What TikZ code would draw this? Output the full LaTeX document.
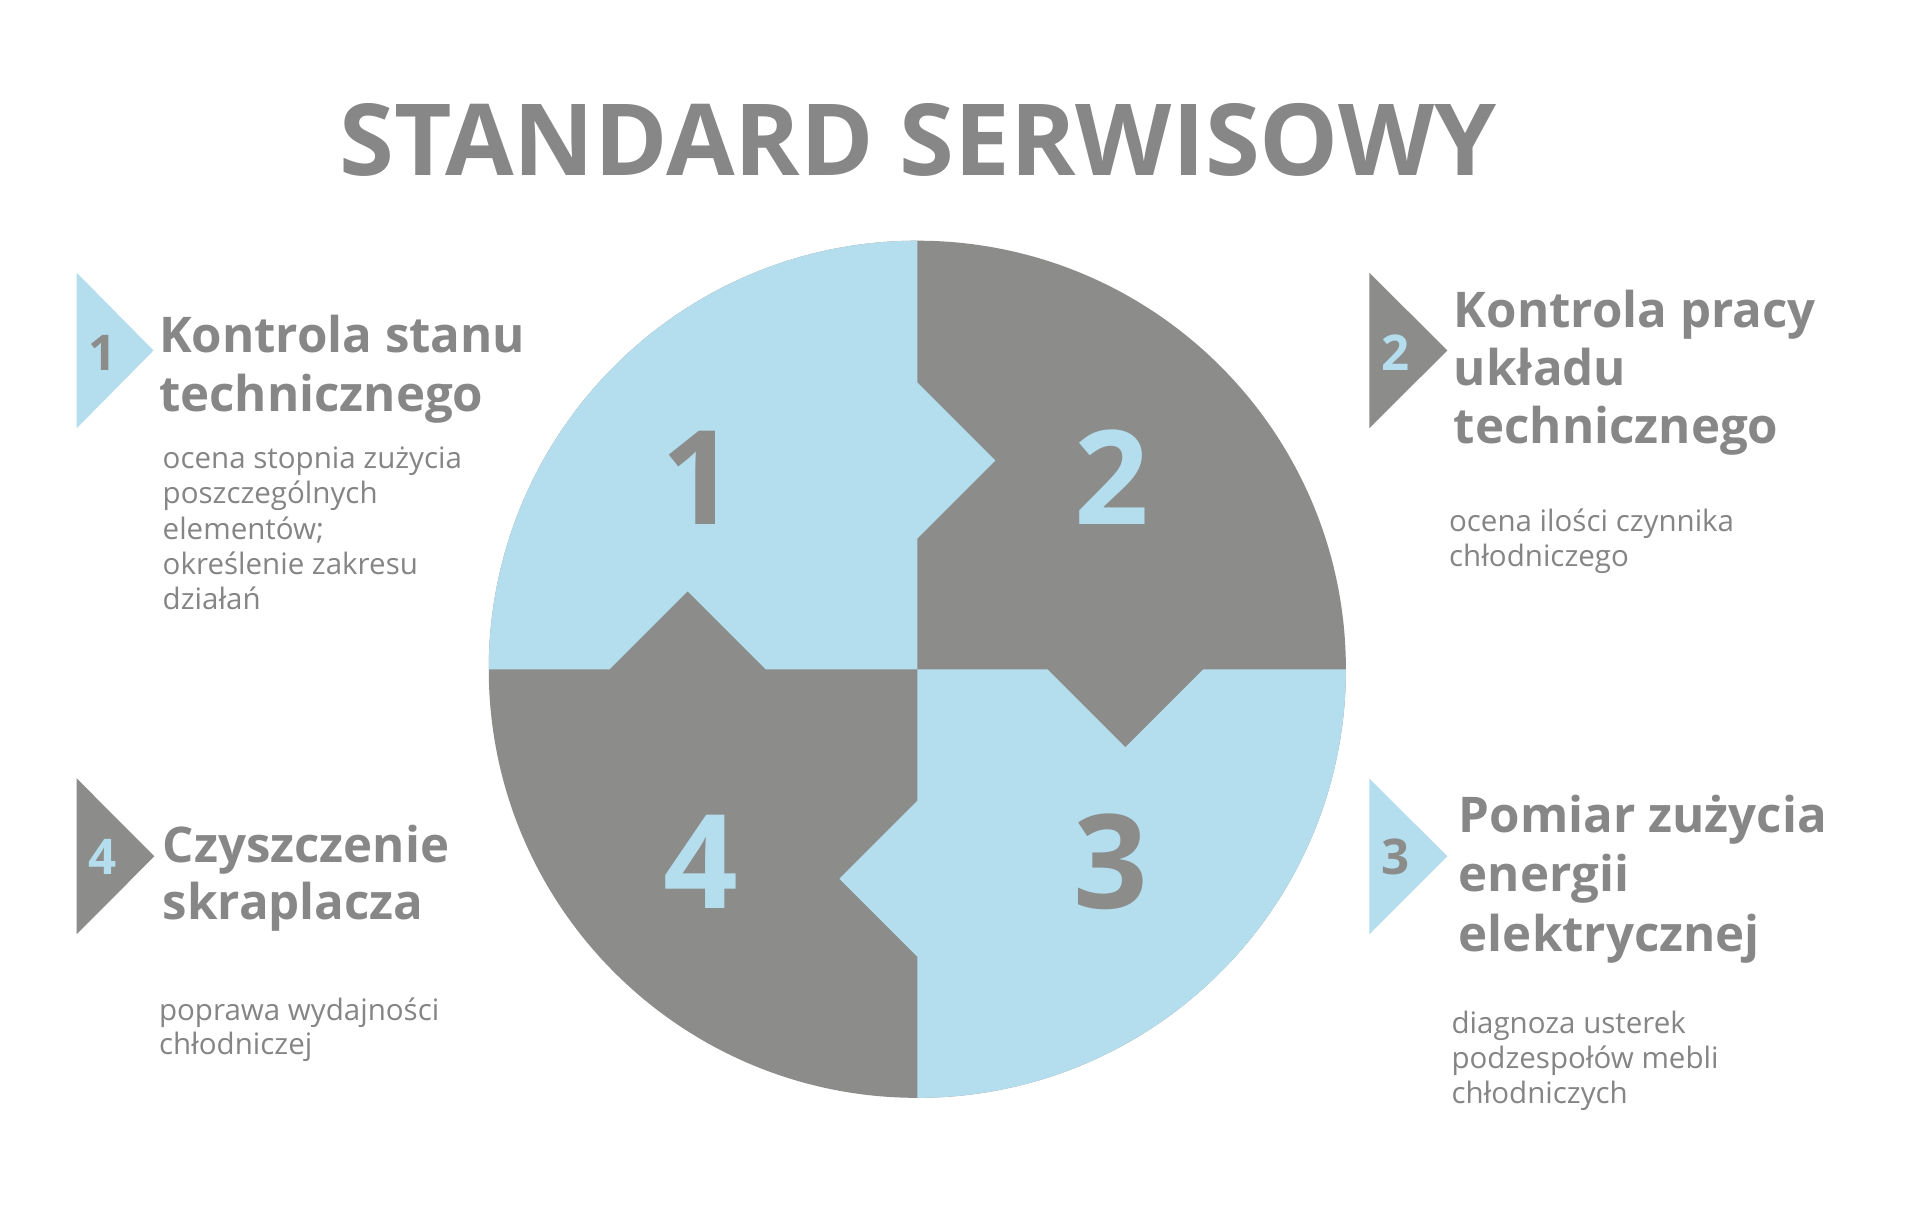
\documentclass[tikz,border=0pt]{standalone}
\usepackage{fontspec}
\setmainfont{Open Sans}
\definecolor{pgray}{HTML}{8C8C8B}
\definecolor{pblue}{HTML}{B4DEED}
\definecolor{tgray}{HTML}{878787}
\definecolor{dgray}{HTML}{858585}
\tikzset{
  every node/.style={inner sep=0pt, outer sep=0pt},
  titletext/.style={anchor=base, text=tgray, font=\fontsize{28.3}{34}\selectfont\bfseries},
  headtext/.style={anchor=base west, text=tgray, font=\fontsize{14}{17}\selectfont\bfseries},
  desctext/.style={anchor=base west, text=dgray, font=\fontsize{8.4}{10}\selectfont},
  bignum/.style={anchor=base, font=\fontsize{37.2}{40}\selectfont\bfseries},
  smallnum/.style={anchor=base, font=\fontsize{14}{17}\selectfont\bfseries},
}
\begin{document}
\begin{tikzpicture}[x=0.1228mm,y=-0.1228mm]
\useasboundingbox (0,0) rectangle (1563.5,1000);
\fill[white] (0,0) rectangle (1563.5,1000);

% title
\node[titletext] (title) at (747.5,143) {STANDARD SERWISOWY};

% circle
\fill[pgray] (747,545) circle[radius=349];
\fill[pblue] (398,545) arc[start angle=180,end angle=270,radius=349]
  -- (747,311.5) -- (810.5,375) -- (747,438.5) -- (747,545)
  -- (623.5,545) -- (560,481.5) -- (496.5,545) -- cycle;
\fill[pblue] (1096,545) arc[start angle=0,end angle=90,radius=349]
  -- (747,779) -- (683.5,715.5) -- (747,652) -- (747,545)
  -- (853,545) -- (916.5,608.5) -- (980,545) -- cycle;

\node[bignum,text=pgray] (n1) at (569,427) {1};
\node[bignum,text=pblue] (n2) at (905,427) {2};
\node[bignum,text=pgray] (n3) at (904.5,740) {3};
\node[bignum,text=pblue] (n4) at (571,740) {4};

% small triangles
\fill[pblue] (62.4,222) -- (125,285.4) -- (62.4,348.8) -- cycle;
\fill[pgray] (1115,222) -- (1178.6,285.4) -- (1115,348.8) -- cycle;
\fill[pgray] (62.4,633.8) -- (125.7,697.3) -- (62.4,760.8) -- cycle;
\fill[pblue] (1115,633.8) -- (1178.6,697.3) -- (1115,760.8) -- cycle;

\node[smallnum,text=pgray] (s1) at (83.5,301.3) {1};
\node[smallnum,text=pblue] (s2) at (1136.5,301.3) {2};
\node[smallnum,text=pblue] (s4) at (83.6,712.5) {4};
\node[smallnum,text=pgray] (s3) at (1136.3,712.5) {3};

% item 1
\node[headtext] (h1a) at (129.5,287) {Kontrola stanu};
\node[headtext] (h1b) at (129.5,335) {technicznego};
\node[desctext] (d1a) at (132.5,381.4) {ocena stopnia zużycia};
\node[desctext] (d1b) at (132.5,410.2) {poszczególnych};
\node[desctext] (d1c) at (132.5,439) {elementów;};
\node[desctext] (d1d) at (132.5,467.8) {określenie zakresu};
\node[desctext] (d1e) at (132.5,496.6) {działań};

% item 2
\node[headtext] (h2a) at (1184,267) {Kontrola pracy};
\node[headtext] (h2b) at (1184,314) {układu};
\node[headtext] (h2c) at (1184,361) {technicznego};
\node[desctext] (d2a) at (1180,433) {ocena ilości czynnika};
\node[desctext] (d2b) at (1180,461) {chłodniczego};

% item 4
\node[headtext] (h4a) at (132.5,702.5) {Czyszczenie};
\node[headtext] (h4b) at (132.5,749) {skraplacza};
\node[desctext] (d4a) at (129.5,830.6) {poprawa wydajności};
\node[desctext] (d4b) at (129.5,859) {chłodniczej};

% item 3
\node[headtext] (h3a) at (1188,678) {Pomiar zużycia};
\node[headtext] (h3b) at (1188,726) {energii};
\node[headtext] (h3c) at (1188,775) {elektrycznej};
\node[desctext] (d3a) at (1182,841.5) {diagnoza usterek};
\node[desctext] (d3b) at (1182,870) {podzespołów mebli};
\node[desctext] (d3c) at (1182,898.5) {chłodniczych};
\end{tikzpicture}
\end{document}
